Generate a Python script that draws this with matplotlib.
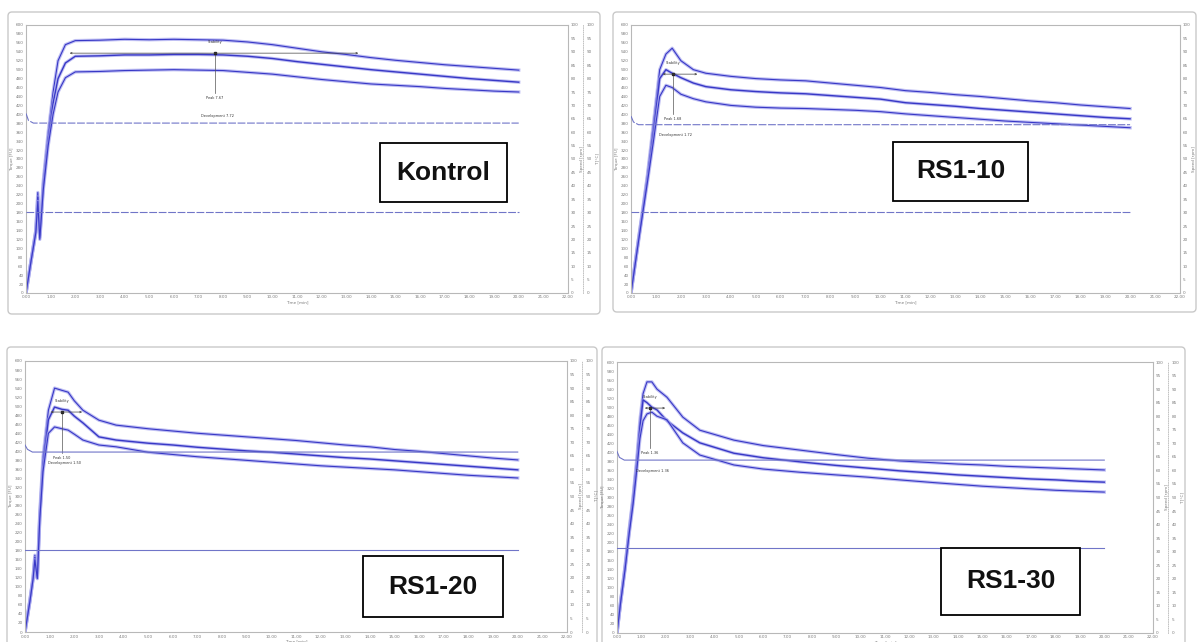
import matplotlib
matplotlib.use("Agg")
import matplotlib.pyplot as plt
from matplotlib.patches import Rectangle, FancyBboxPatch

W, H = 1198, 642

# ---- values ----
names = ["Kontrol", "RS1-10", "RS1-20", "RS1-30"]

t_kontrol = [0, 0.2, 0.4, 0.48, 0.56, 0.7, 0.9, 1.1, 1.3, 1.6, 2, 3, 4, 5, 6, 7, 8, 9, 10,
             11, 12, 13, 14, 15, 16, 17, 18, 19, 20]
top_kontrol = [0, 70, 140, 225, 130, 250, 360, 450, 520, 556, 565, 566, 568, 567, 568, 567, 566,
               562, 556, 548, 540, 534, 527, 521, 516, 511, 507, 503, 499]
mid_kontrol = [0, 70, 140, 215, 125, 240, 345, 425, 480, 515, 530, 531, 533, 533, 534, 534, 533,
               530, 525, 518, 512, 506, 500, 495, 490, 485, 480, 476, 472]
bot_kontrol = [0, 70, 135, 205, 120, 230, 330, 400, 450, 482, 495, 496, 498, 499, 500, 499, 498,
               494, 490, 484, 478, 473, 468, 465, 462, 458, 455, 452, 450]

t_rs10 = [0, 0.3, 0.5, 0.65, 0.9, 1.15, 1.4, 1.65, 2.0, 2.5, 3, 4, 5, 6, 7, 8, 9, 10, 11, 12,
          13, 14, 15, 16, 17, 18, 19, 20]
top_rs10 = [0, 120, 200, 260, 380, 500, 535, 548, 520, 500, 492, 485, 480, 477, 475, 470, 465,
            460, 453, 449, 444, 440, 435, 430, 426, 421, 417, 413]
mid_rs10 = [0, 120, 195, 255, 360, 480, 500, 492, 482, 470, 462, 455, 451, 448, 446, 442, 438,
            434, 426, 422, 418, 413, 409, 405, 401, 397, 393, 390]
bot_rs10 = [0, 115, 190, 245, 340, 440, 465, 460, 445, 435, 428, 420, 416, 414, 413, 411, 409,
            406, 401, 397, 393, 389, 385, 382, 379, 376, 373, 370]

t_rs20 = [0, 0.2, 0.33, 0.4, 0.5, 0.6, 0.73, 0.95, 1.2, 1.5, 1.75, 2.0, 2.35, 3.0, 3.7, 5, 6, 7,
          8, 9, 10, 11, 12, 13, 14, 15, 16, 17, 18, 19, 20]
top_rs20 = [0, 70, 122, 170, 125, 263, 387, 491, 540, 535, 531, 512, 491, 469, 458, 450, 445,
            440, 436, 432, 428, 424, 419, 414, 410, 404, 400, 395, 390, 385, 381]
mid_rs20 = [0, 70, 120, 165, 120, 255, 370, 470, 498, 493, 491, 478, 463, 432, 425, 418, 414,
            409, 405, 401, 398, 394, 390, 386, 383, 379, 375, 371, 367, 363, 359]
bot_rs20 = [0, 68, 118, 160, 118, 250, 355, 440, 454, 450, 447, 438, 425, 414, 410, 398, 393,
            388, 384, 380, 376, 372, 368, 365, 362, 359, 355, 351, 347, 344, 341]

t_rs30 = [0, 0.15, 0.33, 0.5, 0.66, 0.82, 0.94, 1.07, 1.23, 1.43, 1.64, 2.05, 2.7, 3.4, 4.8, 6,
          7.5, 9, 10.3, 11.6, 13, 14, 15, 16, 17, 18, 19, 20]
top_rs30 = [0, 70, 148, 230, 301, 390, 471, 530, 556, 556, 540, 522, 478, 449, 427, 415, 405,
            395, 387, 381, 377, 374, 372, 369, 367, 365, 363, 361]
mid_rs30 = [0, 70, 145, 225, 295, 380, 455, 516, 510, 500, 494, 470, 443, 421, 398, 388, 379,
            371, 365, 359, 354, 350, 347, 344, 341, 339, 336, 334]
bot_rs30 = [0, 68, 140, 220, 285, 365, 430, 470, 485, 489, 480, 472, 421, 394, 372, 363, 356,
            350, 345, 339, 333, 329, 325, 322, 319, 316, 314, 312]

times = [t_kontrol, t_rs10, t_rs20, t_rs30]
tops = [top_kontrol, top_rs10, top_rs20, top_rs30]
mids = [mid_kontrol, mid_rs10, mid_rs20, mid_rs30]
bots = [bot_kontrol, bot_rs10, bot_rs20, bot_rs30]

# evaluation markers (left axis FU, time in min)
peak_time = [7.67, 1.68, 1.50, 1.36]
peak_low = [448, 401, 396, 410]
stab_level = [537, 490, 487, 498]
stab_start = [1.66, 1.16, 0.93, 1.03]
stab_end = [13.6, 2.77, 2.43, 2.09]
dev_time = [7.72, 1.72, 1.50, 1.36]

# right-axis traces (0-100 scale)
upper_line = [63.4, 62.8, 66.4, 63.8]
upper_start = [67.0, 66.0, 69.0, 67.0]
lower_line = [30.2, 30.1, 30.2, 31.4]

x_ticks = list(range(0, 23))
left_ticks = list(range(0, 601, 20))
right_ticks = list(range(0, 101, 5))

# panel geometry in pixels: plot (l, t, r, b), outer frame (l, t, r, b), label box
plots = [(26, 25, 568, 293), (631, 25, 1180, 293), (25, 361, 567, 632), (617, 362, 1153, 633)]
frames = [(8, 12, 600, 314), (613, 12, 1196, 312), (7, 347, 597, 660), (602, 347, 1185, 660)]
boxes = [(380, 143, 507, 202), (893, 142, 1028, 201), (363, 556, 503, 617), (941, 548, 1080, 615)]

grey = "#7a7a7a"
blue = "#3838c6"
glow = "#a4a4ee"
line_blue = "#7075c8"

fig = plt.figure(figsize=(W / 100, H / 100), dpi=100)

bg = fig.add_axes([0, 0, 1, 1], zorder=0)
bg.set_xlim(0, W)
bg.set_ylim(H, 0)
bg.axis("off")
for (l, t, r, b) in frames:
    bg.add_patch(FancyBboxPatch((l, t), r - l, b - t, boxstyle="round,pad=0,rounding_size=4",
                                fc="white", ec="#c9c9c9", lw=1.0))

for i in range(4):
    l, t, r, b = plots[i]
    ax = fig.add_axes([l / W, 1 - b / H, (r - l) / W, (b - t) / H], zorder=2)
    ax.set_xlim(0, 22)
    ax.set_ylim(0, 600)
    ax.set_xticks(x_ticks)
    ax.set_xticklabels([f"{v:.2f}" for v in x_ticks])
    ax.set_yticks(left_ticks)
    ax.tick_params(labelsize=3, colors=grey, length=0, pad=1.8)
    for s in ax.spines.values():
        s.set_color("#b8b8b8")
        s.set_linewidth(0.8)
    ax.set_xlabel("Time [min]", fontsize=3, color=grey, labelpad=0.5)
    ax.set_ylabel("Torque [FU]", fontsize=3, color=grey, labelpad=1)

    axr = ax.twinx()
    axr.set_ylim(0, 100)
    axr.set_yticks(right_ticks)
    axr.tick_params(labelsize=3, colors=grey, length=0, pad=2)
    for s in axr.spines.values():
        s.set_visible(False)
    axr.set_ylabel("Speed [rpm]", fontsize=3, color=grey, labelpad=1)

    # second right scale; in the RS1-10 screenshot it lies beyond the crop
    if i != 1:
        axr2 = ax.twinx()
        axr2.set_ylim(0, 100)
        axr2.set_yticks(right_ticks)
        axr2.spines["right"].set_position(("outward", 11))
        axr2.spines["right"].set_linestyle(":")
        axr2.spines["right"].set_color("#b8b8b8")
        axr2.spines["right"].set_linewidth(0.6)
        for k in ("left", "top", "bottom"):
            axr2.spines[k].set_visible(False)
        axr2.tick_params(labelsize=3, colors=grey, length=0, pad=2.5)
        axr2.set_ylabel("T [°C]", fontsize=3, color=grey, labelpad=1)

    # right-axis traces
    axr.plot([0, 0.1, 0.3, 20], [upper_start[i], upper_line[i] + 1, upper_line[i], upper_line[i]],
             color=line_blue, lw=0.8, dashes=(7, 1.5) if i < 2 else (None, None))
    axr.plot([0, 20], [lower_line[i], lower_line[i]], color=line_blue, lw=0.8,
             dashes=(7, 1.5) if i < 2 else (None, None))

    # torque traces
    for series, w in ((tops[i], 0.8), (mids[i], 1.0), (bots[i], 0.8)):
        ax.plot(times[i], series, color=glow, lw=2.4, alpha=0.7, solid_joinstyle="round")
        ax.plot(times[i], series, color=blue, lw=w, solid_joinstyle="round")

    # evaluation markers
    ax.annotate("", xy=(stab_start[i], stab_level[i]), xytext=(stab_end[i], stab_level[i]),
                arrowprops=dict(arrowstyle="<->", color="#444", lw=0.5, mutation_scale=3))
    ax.plot([peak_time[i], peak_time[i]], [stab_level[i], peak_low[i]], color="#555", lw=0.5)
    ax.plot([peak_time[i]], [stab_level[i]], marker="s", ms=1.8, color="#222")
    ax.text(peak_time[i], stab_level[i] + 22, "Stability", fontsize=2.5, color="#333", ha="center")
    ax.text(peak_time[i], peak_low[i] - 14, f"Peak {peak_time[i]:.2f}", fontsize=2.5,
            color="#333", ha="center")
    ax.text(peak_time[i] + 0.1, upper_line[i] * 6 + 14 if i == 0 else upper_line[i] * 6 - 26,
            f"Development {dev_time[i]:.2f}", fontsize=2.5, color="#333", ha="center")

ov = fig.add_axes([0, 0, 1, 1], zorder=10)
ov.set_xlim(0, W)
ov.set_ylim(H, 0)
ov.axis("off")
ov.patch.set_visible(False)
for name, (l, t, r, b) in zip(names, boxes):
    ov.add_patch(Rectangle((l, t), r - l, b - t, fc="white", ec="black", lw=1.3))
    ov.text((l + r) / 2, (t + b) / 2, name, ha="center", va="center", fontsize=19,
            fontweight="bold", family="Liberation Sans", color="#111")

fig.savefig("out.png", dpi=100, facecolor="white")
